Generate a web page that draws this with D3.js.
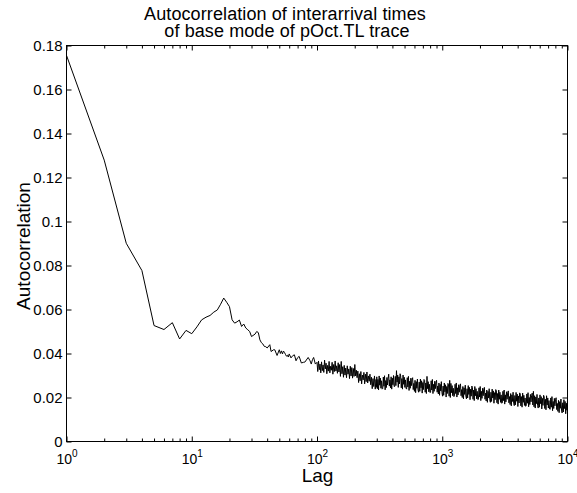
<!DOCTYPE html>
<html>
<head>
<meta charset="utf-8">
<script src="https://cdn.jsdelivr.net/npm/d3@7"></script>
<style>
  body { margin: 0; background: #fff; }
  svg { display: block; font-family: "Liberation Sans", Arial, sans-serif; }
</style>
</head>
<body>
<script>
// 滞后 1..97 的自相关值（逐点读图）
var headLags = [1, 2, 3, 4, 5, 6, 7, 8, 9, 10, 11, 12, 13, 14, 15, 16, 17, 18, 19, 20,
    21, 22, 23, 24, 25, 26, 27, 28, 29, 30, 32, 33, 34, 35, 36, 37, 38, 39, 40, 42,
    43, 45, 46, 48, 50, 51, 52, 53, 54, 55, 56, 57, 58, 59, 60, 62, 64, 66, 68, 70,
    72, 75, 78, 80, 85, 88, 90, 92, 94, 97];
var headAcf = [0.1755, 0.1279, 0.0901, 0.0777, 0.0527, 0.0509, 0.0540, 0.0466, 0.0505, 0.0490,
    0.0521, 0.0553, 0.0565, 0.0573, 0.0588, 0.0598, 0.0624, 0.0652, 0.0633, 0.0613,
    0.0553, 0.0538, 0.0544, 0.0552, 0.0523, 0.0534, 0.0516, 0.0508, 0.0500, 0.0477,
    0.0488, 0.0500, 0.0495, 0.0462, 0.0449, 0.0443, 0.0432, 0.0431, 0.0425, 0.0440,
    0.0409, 0.0417, 0.0417, 0.0391, 0.0417, 0.0400, 0.0412, 0.0398, 0.0411, 0.0405,
    0.0396, 0.0388, 0.0392, 0.0384, 0.0398, 0.0380, 0.0390, 0.0394, 0.0367, 0.0381,
    0.0387, 0.0357, 0.0360, 0.0361, 0.0382, 0.0367, 0.0352, 0.0372, 0.0382, 0.0352];

// 滞后 100..300 噪声段（单位 1e-4，对数等距取样）
var midAcf = [
    360, 318, 366, 326, 352, 312, 362, 322, 348, 314, 370, 330, 356, 308, 346, 320,
    364, 312, 342, 324, 360, 306, 350, 318, 366, 320, 344, 310, 358, 316, 350,
    296, 364, 308, 340, 292, 346, 302, 334, 290, 344, 306, 330, 286, 342, 298, 336,
    288, 332, 296, 350, 298, 324, 290,
    320, 268, 308, 276, 318, 262, 302, 280, 314, 262, 306, 272, 316, 266, 298, 274, 306,
    258, 292, 240, 286, 250, 298, 238, 282, 246
];

// 滞后 300..10000 噪声段（单位 1e-4，对数等距取样）
var tailAcf = [
    294, 240, 282, 234, 298, 256, 288, 242, 276, 238,
    241, 293, 251, 299, 235, 277, 245, 291, 257, 287,
    306, 252, 280, 244, 294, 238, 288, 258, 300, 250,
    250, 296, 254, 322, 270, 302, 246, 294, 262, 308,
    298, 244, 286, 238, 302, 260, 292, 246, 280, 242,
    238, 290, 248, 296, 232, 274, 242, 288, 254, 284,
    290, 236, 264, 228, 278, 222, 272, 242, 284, 234,
    224, 270, 228, 284, 244, 276, 220, 268, 236, 282,
    278, 224, 266, 218, 296, 240, 272, 226, 260, 222,
    224, 276, 234, 282, 218, 260, 228, 274, 240, 270,
    278, 224, 252, 216, 266, 210, 260, 230, 272, 222,
    206, 252, 210, 266, 226, 258, 202, 250, 218, 264,
    260, 206, 278, 200, 264, 222, 254, 208, 242, 204,
    208, 260, 218, 266, 202, 244, 212, 258, 224, 254,
    262, 208, 236, 200, 250, 194, 244, 214, 256, 206,
    194, 240, 198, 254, 214, 246, 190, 238, 206, 252,
    246, 192, 234, 186, 250, 208, 240, 194, 228, 190,
    192, 244, 202, 250, 186, 228, 196, 242, 208, 238,
    246, 192, 220, 184, 234, 178, 228, 198, 240, 190,
    178, 224, 182, 238, 198, 230, 174, 222, 190, 236,
    230, 176, 218, 170, 234, 192, 224, 178, 212, 174,
    176, 228, 186, 234, 170, 212, 180, 226, 192, 222,
    230, 176, 204, 168, 218, 162, 212, 182, 224, 174,
    163, 209, 167, 223, 183, 215, 159, 207, 175, 221,
    216, 162, 204, 156, 220, 178, 210, 164, 198, 160,
    164, 216, 174, 222, 158, 200, 168, 214, 180, 210,
    220, 166, 228, 158, 208, 152, 202, 172, 214, 164,
    152, 198, 156, 212, 172, 204, 148, 196, 164, 210,
    204, 150, 192, 144, 208, 166, 198, 152, 186, 148,
    146, 198, 156, 204, 140, 182, 150, 196, 162, 192,
    199, 145, 173, 137, 187, 131, 181, 151, 193, 143,
    130, 176, 134, 190, 150, 182, 126, 174, 142, 188
];

var xMajor = [1, 10, 100, 1000, 10000];
var yTicks = [0, 0.02, 0.04, 0.06, 0.08, 0.1, 0.12, 0.14, 0.16, 0.18];
var yTickLabels = ["0", "0.02", "0.04", "0.06", "0.08", "0.1", "0.12", "0.14", "0.16", "0.18"];

var W = 577, H = 493;
var L = 66.5, R = 567.5, T = 45.5, B = 441.5;  // 坐标轴框

// 噪声段取样的滞后位置（对数等距）
function logGrid(a, b, n) {
    return d3.range(n).map(function (i) { return a * Math.pow(b / a, i / (n - 1)); });
}
var midLags = logGrid(100, 300, midAcf.length);
var tailLags = logGrid(300, 10000, tailAcf.length);

var points = headLags.map(function (l, i) { return { lag: l, v: headAcf[i] }; })
    .concat(midLags.map(function (l, i) { return { lag: l, v: midAcf[i] / 10000 }; }))
    .concat(tailLags.map(function (l, i) { return { lag: l, v: tailAcf[i] / 10000 }; }));

// 次刻度 2..9 × 10^k
var xMinor = [];
xMajor.slice(0, -1).forEach(function (p) {
    for (var k = 2; k <= 9; k++) xMinor.push(p * k);
});

var x = d3.scaleLog().domain([1, 10000]).range([L, R]);
var y = d3.scaleLinear().domain([0, 0.18]).range([B, T]);

var svg = d3.select("body").append("svg")
    .attr("width", W)
    .attr("height", H);

// 曲线
svg.append("path")
    .datum(points)
    .attr("fill", "none")
    .attr("stroke", "#000")
    .attr("stroke-width", 1)
    .attr("stroke-linejoin", "round")
    .attr("d", d3.line().x(function (d) { return x(d.lag); }).y(function (d) { return y(d.v); }));

// 底部主刻度 + 标签
var gxb = svg.append("g").attr("transform", "translate(0," + B + ")")
    .call(d3.axisBottom(x).tickValues(xMajor).tickSize(-5).tickFormat(""));
gxb.attr("font-family", null).attr("font-size", null);
gxb.selectAll("text").remove();
gxb.selectAll(".tick").append("text")
    .attr("fill", "#000")
    .attr("text-anchor", "middle")
    .attr("y", 22)
    .attr("font-size", 14)
    .each(function (d) {
        var t = d3.select(this);
        t.append("tspan").text("10");
        t.append("tspan").attr("dy", -7).attr("font-size", 10).text(Math.round(Math.log10(d)));
    });
svg.append("g").attr("transform", "translate(0," + B + ")")
    .call(d3.axisBottom(x).tickValues(xMinor).tickSize(-3).tickFormat(""));

// 顶部刻度（向内）
svg.append("g").attr("transform", "translate(0," + T + ")")
    .call(d3.axisTop(x).tickValues(xMajor).tickSize(-5).tickFormat(""));
svg.append("g").attr("transform", "translate(0," + T + ")")
    .call(d3.axisTop(x).tickValues(xMinor).tickSize(-3).tickFormat(""));

// 左右 y 轴
var gyl = svg.append("g").attr("transform", "translate(" + L + ",0)")
    .call(d3.axisLeft(y).tickValues(yTicks).tickSize(-5).tickPadding(4)
        .tickFormat(function (d, i) { return yTickLabels[i]; }));
gyl.attr("font-family", null).attr("font-size", null);
gyl.selectAll("text")
    .attr("fill", "#000")
    .attr("font-size", 15);
svg.append("g").attr("transform", "translate(" + R + ",0)")
    .call(d3.axisRight(y).tickValues(yTicks).tickSize(-5).tickFormat(""));

svg.selectAll(".domain").remove();
svg.selectAll(".tick line").attr("stroke", "#000");

// 外框
svg.append("rect")
    .attr("x", L).attr("y", T)
    .attr("width", R - L).attr("height", B - T)
    .attr("fill", "none")
    .attr("stroke", "#000")
    .attr("stroke-width", 1);

// 标题与轴标题
svg.append("text")
    .attr("x", 285).attr("y", 19.5)
    .attr("text-anchor", "middle").attr("font-size", 18)
    .attr("letter-spacing", 0.1)
    .text("Autocorrelation of interarrival times");
svg.append("text")
    .attr("x", 287).attr("y", 37)
    .attr("text-anchor", "middle").attr("font-size", 18)
    .attr("letter-spacing", 0.1)
    .text("of base mode of pOct.TL trace");
svg.append("text")
    .attr("x", 317.5).attr("y", 482)
    .attr("text-anchor", "middle").attr("font-size", 19)
    .text("Lag");
svg.append("text")
    .attr("transform", "translate(30,246) rotate(-90)")
    .attr("text-anchor", "middle").attr("font-size", 19)
    .text("Autocorrelation");
</script>
</body>
</html>
